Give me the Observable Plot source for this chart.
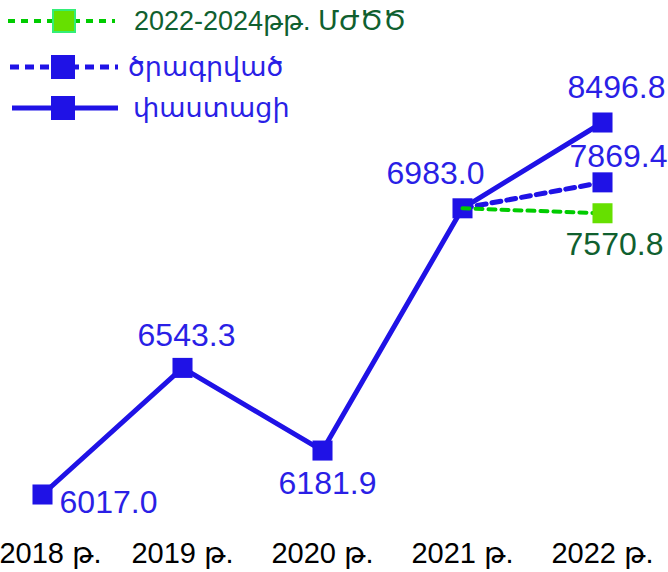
<!DOCTYPE html>
<html><head><meta charset="utf-8">
<script src="https://cdn.jsdelivr.net/npm/d3@7"></script>
<script src="https://cdn.jsdelivr.net/npm/@observablehq/plot@0.6"></script>
<style>
html,body{margin:0;padding:0;background:#fff;}
#wrap{position:relative;width:668px;height:572px;overflow:hidden;font-family:"Liberation Sans",Arial,"DejaVu Sans",sans-serif;}
.row{position:absolute;left:0;height:30px;white-space:nowrap;font-size:27px;}
.row svg{position:absolute;left:0;top:0;}
.row span{position:absolute;top:50%;transform:translateY(-50%);}
</style></head><body><div id="wrap"></div>
<script>
// Categories
const years = ["2018 թ.", "2019 թ.", "2020 թ.", "2021 թ.", "2022 թ."];
// Series names
const seriesNames = ["2022-2024թթ. ՄԺԾԾ", "ծրագրված", "փաստացի"];
// Actual values (labels)
const actualValues = [6017.0, 6543.3, 6181.9, 6983.0, 8496.8];
// Heights at which the original (not-to-scale) picture draws them
const actualDrawn = [6017, 6861, 6310, 7925, 8497];
// Forecast series, 2021 -> 2022
const forecastYears = ["2021 թ.", "2022 թ."];
const plannedValues = [6983.0, 7869.4];
const plannedDrawn = [7925, 8098];
const mtefValues = [6983.0, 7570.8];
const mtefDrawn = [7925, 7892];

const BLUE = "#1f12e6";
const LABEL_BLUE = "#2a1fe6";
const GREEN_LINE = "#00cc00";
const GREEN_DOT = "#66e000";
const DARK_GREEN = "#10602f";

const actual = years.map((y, i) => ({x: y, y: actualDrawn[i], v: actualValues[i]}));
const planned = forecastYears.map((y, i) => ({x: y, y: plannedDrawn[i], v: plannedValues[i]}));
const mtef = forecastYears.map((y, i) => ({x: y, y: mtefDrawn[i], v: mtefValues[i]}));
const fmt = d => d.v.toFixed(1);

const labelOpts = {x: "x", y: "y", text: fmt, fontSize: 32, fill: LABEL_BLUE, lineAnchor: "middle"};
const actualLabel = (idx, dx, dy) => Plot.text(actual, {...labelOpts, filter: (d, i) => i === idx, dx, dy});
const axisOpts = {tickSize: 0, tickPadding: 48, fontSize: 29, fill: "#000", label: null};

const chart = Plot.plot({
  width: 668, height: 572,
  marginLeft: 42, marginRight: 66, marginTop: 122, marginBottom: 78,
  x: {type: "point", domain: years, padding: 0, label: null},
  y: {domain: [6017, 8497], axis: null},
  style: {fontFamily: '"Liberation Sans", Arial, "DejaVu Sans", sans-serif', background: "transparent", overflow: "visible"},
  marks: [
    Plot.axisX({...axisOpts, ticks: years.slice(1)}),
    Plot.axisX({...axisOpts, ticks: years.slice(0, 1), dx: 8}),
    Plot.line(actual, {x: "x", y: "y", stroke: BLUE, strokeWidth: 5}),
    Plot.dot(actual, {x: "x", y: "y", symbol: "square", r: 11.3, fill: BLUE, stroke: "none"}),
    Plot.line(planned, {x: "x", y: "y", stroke: BLUE, strokeWidth: 5, strokeDasharray: "9,6"}),
    Plot.dot(planned, {x: "x", y: "y", symbol: "square", r: 11.3, fill: BLUE, filter: (d, i) => i === 1}),
    Plot.line(mtef, {x: "x", y: "y", stroke: GREEN_LINE, strokeWidth: 4, strokeDasharray: "7,6"}),
    Plot.dot(mtef, {x: "x", y: "y", symbol: "square", r: 11.3, fill: GREEN_DOT, filter: (d, i) => i === 1}),
    actualLabel(0, 66, 8),
    actualLabel(1, 4, -32),
    actualLabel(2, 5, 33),
    actualLabel(3, -27, -35),
    actualLabel(4, 14, -35),
    Plot.text(planned, {...labelOpts, filter: (d, i) => i === 1, dx: 16, dy: -26}),
    Plot.text(mtef, {...labelOpts, fill: DARK_GREEN, filter: (d, i) => i === 1, dx: 12, dy: 31})
  ]
});
const wrap = document.getElementById("wrap");
wrap.appendChild(chart);
chart.style.position = "absolute";
chart.style.left = "0";
chart.style.top = "0";

// Legend
const legendRows = [
  {name: seriesNames[0], cy: 21, x1: 8, x2: 115, mx: 64, stroke: GREEN_LINE, sw: 4, dash: "7,6", fill: GREEN_DOT, edge: "#33ee77", color: DARK_GREEN, tx: 134},
  {name: seriesNames[1], cy: 67, x1: 10, x2: 118, mx: 63, stroke: BLUE, sw: 5, dash: "9,6", fill: BLUE, edge: BLUE, color: LABEL_BLUE, tx: 128},
  {name: seriesNames[2], cy: 108, x1: 12, x2: 118, mx: 63, stroke: BLUE, sw: 5, dash: null, fill: BLUE, edge: BLUE, color: LABEL_BLUE, tx: 133}
];
for (const r of legendRows) {
  const row = document.createElement("div");
  row.className = "row";
  row.style.top = (r.cy - 15) + "px";
  row.style.width = "668px";
  row.innerHTML = `<svg width="130" height="30"><line x1="${r.x1}" x2="${r.x2}" y1="15" y2="15" stroke="${r.stroke}" stroke-width="${r.sw}" ${r.dash ? `stroke-dasharray="${r.dash}"` : ""}/><rect x="${r.mx - 11}" y="4" width="22" height="22" fill="${r.fill}" stroke="${r.edge}" stroke-width="2"/></svg><span style="left:${r.tx}px;color:${r.color}">${r.name}</span>`;
  wrap.appendChild(row);
}
</script>
</body></html>
